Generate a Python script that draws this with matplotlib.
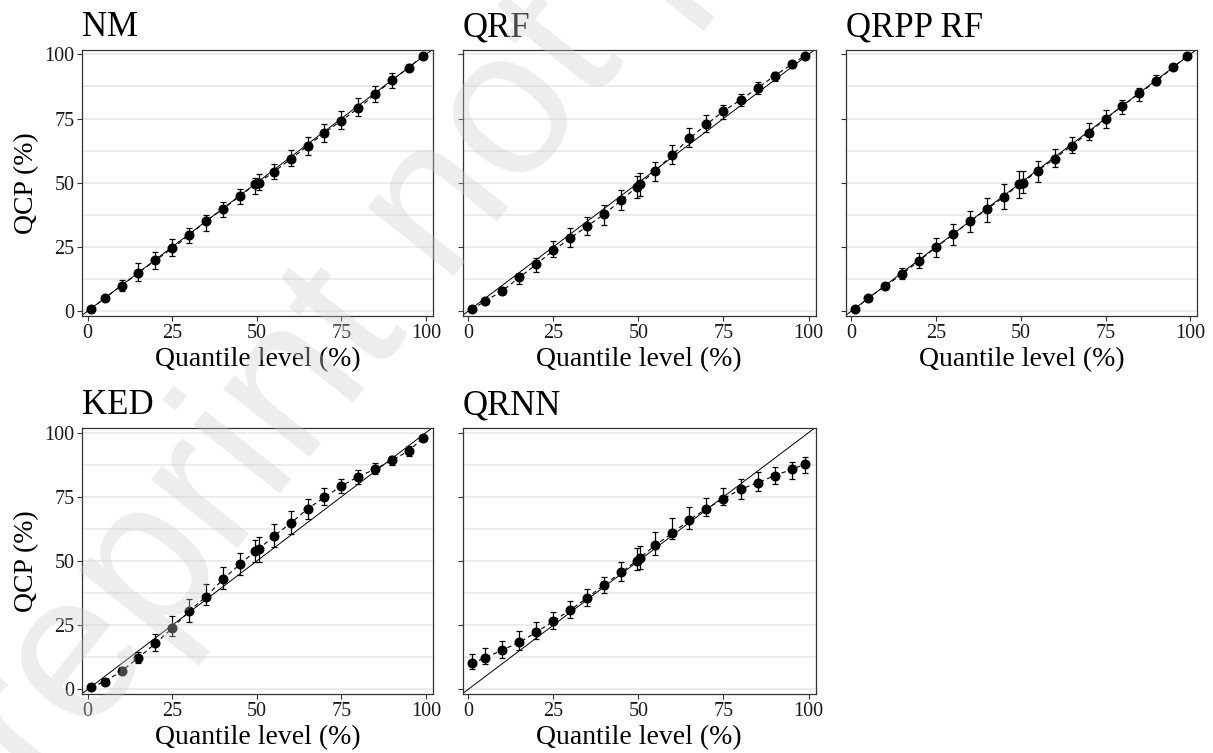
import numpy as np
import matplotlib
matplotlib.use("Agg")
import matplotlib.pyplot as plt

plt.rcParams['font.family'] = ['Liberation Serif', 'DejaVu Serif']

# quantile levels (the two around the median are dodged a little)
levels = [1, 5, 10, 15, 20, 25, 30, 35, 40, 45, 49.5, 50.5, 55, 60, 65, 70, 75, 80, 85, 90, 95, 99]

models = ["NM", "QRF", "QRPP RF", "KED", "QRNN"]

nm_qcp = [0.7, 5.0, 9.9, 14.9, 19.7, 24.4, 29.5, 35.1, 39.7, 44.8, 49.4, 50.0, 54.2, 59.2, 64.3, 69.4, 74.2, 79.0, 84.4, 90.0, 94.8, 99.4]
nm_lo = [0.3, 4.3, 7.9, 11.7, 16.2, 21.4, 26.6, 31.3, 36.8, 41.6, 45.5, 47.1, 51.6, 56.6, 60.8, 66.0, 70.9, 76.1, 81.3, 87.0, 93.5, 99.0]
nm_hi = [1.1, 5.8, 12.1, 18.6, 22.9, 27.9, 32.5, 37.3, 42.5, 47.5, 51.7, 53.4, 57.1, 62.9, 67.8, 72.9, 77.9, 82.9, 87.7, 92.6, 96.2, 99.8]

qrf_qcp = [0.6, 3.9, 7.8, 13.1, 18.2, 23.6, 28.4, 33.1, 37.8, 43.2, 48.3, 49.6, 54.7, 60.9, 67.3, 72.7, 77.9, 82.2, 86.9, 91.6, 96.1, 99.5]
qrf_lo = [0.3, 3.1, 6.6, 10.6, 15.1, 20.9, 25.1, 29.5, 33.5, 39.3, 44.2, 44.8, 50.5, 57.4, 63.8, 69.6, 74.9, 79.9, 84.4, 89.7, 94.7, 99.2]
qrf_hi = [0.9, 4.7, 9.5, 14.7, 20.5, 27.1, 32.5, 36.5, 41.2, 47.1, 52.7, 53.9, 58.1, 64.5, 71.2, 76.2, 80.1, 84.4, 89.1, 93.0, 97.0, 99.8]

qrpp_qcp = [0.6, 5.2, 9.7, 14.4, 19.6, 24.8, 29.9, 34.9, 39.7, 44.4, 49.4, 50.0, 54.7, 59.4, 64.4, 69.5, 74.8, 79.9, 84.8, 89.6, 94.9, 99.4]
qrpp_lo = [0.3, 4.4, 8.4, 12.3, 16.9, 20.9, 25.8, 30.6, 34.8, 39.9, 43.9, 45.8, 50.1, 56.0, 61.4, 66.6, 71.2, 76.6, 81.9, 87.9, 93.8, 99.1]
qrpp_hi = [0.9, 6.0, 10.8, 16.9, 22.5, 28.3, 33.8, 38.8, 43.9, 49.6, 54.5, 54.5, 58.4, 63.2, 67.9, 73.4, 78.2, 82.3, 86.8, 91.8, 96.0, 99.7]

ked_qcp = [0.8, 3.0, 7.1, 12.3, 17.9, 23.8, 30.5, 36.1, 42.9, 48.7, 53.8, 54.5, 59.7, 64.7, 70.3, 74.8, 79.2, 82.9, 85.8, 89.2, 93.0, 97.8]
ked_lo = [0.4, 2.2, 6.0, 10.1, 15.1, 20.9, 26.4, 32.7, 39.0, 44.7, 49.7, 49.7, 55.3, 60.4, 66.2, 71.7, 76.4, 80.0, 83.9, 87.3, 90.9, 97.2]
ked_hi = [1.2, 3.8, 8.6, 14.7, 21.6, 28.7, 35.1, 40.9, 47.5, 53.0, 58.2, 59.5, 64.4, 69.6, 74.0, 78.3, 81.9, 85.3, 88.3, 91.0, 94.9, 98.4]

qrnn_qcp = [10.1, 12.3, 15.3, 18.3, 22.2, 26.6, 30.9, 35.7, 40.8, 45.6, 50.1, 51.3, 56.2, 60.9, 66.0, 70.4, 74.3, 77.9, 80.5, 83.2, 85.7, 87.7]
qrnn_lo = [7.8, 9.7, 12.1, 15.3, 19.5, 23.4, 27.9, 32.5, 37.7, 42.2, 46.5, 46.9, 52.3, 58.4, 62.3, 67.5, 71.8, 74.2, 77.3, 80.0, 81.9, 84.2]
qrnn_hi = [13.8, 16.2, 18.8, 22.9, 26.4, 30.3, 34.5, 39.0, 43.9, 49.5, 54.9, 55.8, 61.2, 66.9, 71.2, 74.7, 78.3, 81.8, 84.8, 86.5, 88.6, 90.4]

qcp = [nm_qcp, qrf_qcp, qrpp_qcp, ked_qcp, qrnn_qcp]
lo = [nm_lo, qrf_lo, qrpp_lo, ked_lo, qrnn_lo]
hi = [nm_hi, qrf_hi, qrpp_hi, ked_hi, qrnn_hi]

W, H = 1213, 753
fig = plt.figure(figsize=(W / 100, H / 100), dpi=100)
fig.patch.set_facecolor("white")

# panel boxes in pixels: left, top, right, bottom
col_x = [(82, 433), (462.5, 815.7), (845.7, 1197.3)]
row_y = [(50, 316), (428.3, 694.3)]

for i, name in enumerate(models):
    r, c = divmod(i, 3)
    x0, x1 = col_x[c]
    y0, y1 = row_y[r]
    ax = fig.add_axes([x0 / W, 1 - y1 / H, (x1 - x0) / W, (y1 - y0) / H])

    x = np.array(levels)
    y = np.array(qcp[i])
    err = [y - np.array(lo[i]), np.array(hi[i]) - y]

    ax.axline((0, 0), (1, 1), color="black", lw=0.7, zorder=2)
    ax.plot(x, y, color="black", lw=0.8, ls=(0, (4, 3)), zorder=3)
    ax.errorbar(x, y, yerr=err, fmt="none", ecolor="black", elinewidth=0.9,
                capsize=2.2, capthick=0.9, zorder=4)
    ax.plot(x, y, "o", color="black", ms=6.2, zorder=5)

    ax.set_xlim(-1.7, 102.1)
    ax.set_ylim(-1.95, 101.7)
    ax.set_xticks([0, 25, 50, 75, 100])
    ax.set_yticks([0, 25, 50, 75, 100])
    ax.set_yticks([12.5, 37.5, 62.5, 87.5], minor=True)
    ax.yaxis.grid(True, which="both", color="#ebebeb", lw=1.3)
    ax.set_axisbelow(True)
    ax.tick_params(axis="both", which="major", length=3.5, width=0.8, color="#333333",
                   labelsize=14.5, labelcolor="#1a1a1a", pad=2)
    ax.tick_params(axis="y", which="minor", length=0)
    for s in ax.spines.values():
        s.set_color("#333333")
        s.set_linewidth(0.9)

    if c == 0:
        ax.set_ylabel("QCP (%)", fontsize=20, labelpad=4)
    else:
        ax.set_yticklabels([])
    ax.set_xlabel("Quantile level (%)", fontsize=20, labelpad=3)
    ax.set_title(name, loc="left", fontsize=25, pad=10)

# diagonal watermark across the page
fig.text(-0.037, -0.2, "Preprint not peer reviewed", fontsize=150, family="Liberation Sans",
         rotation=51.5, rotation_mode="anchor", ha="left", va="baseline",
         color="#cccccc", alpha=0.35, zorder=10)

fig.savefig("out.png", dpi=100)
